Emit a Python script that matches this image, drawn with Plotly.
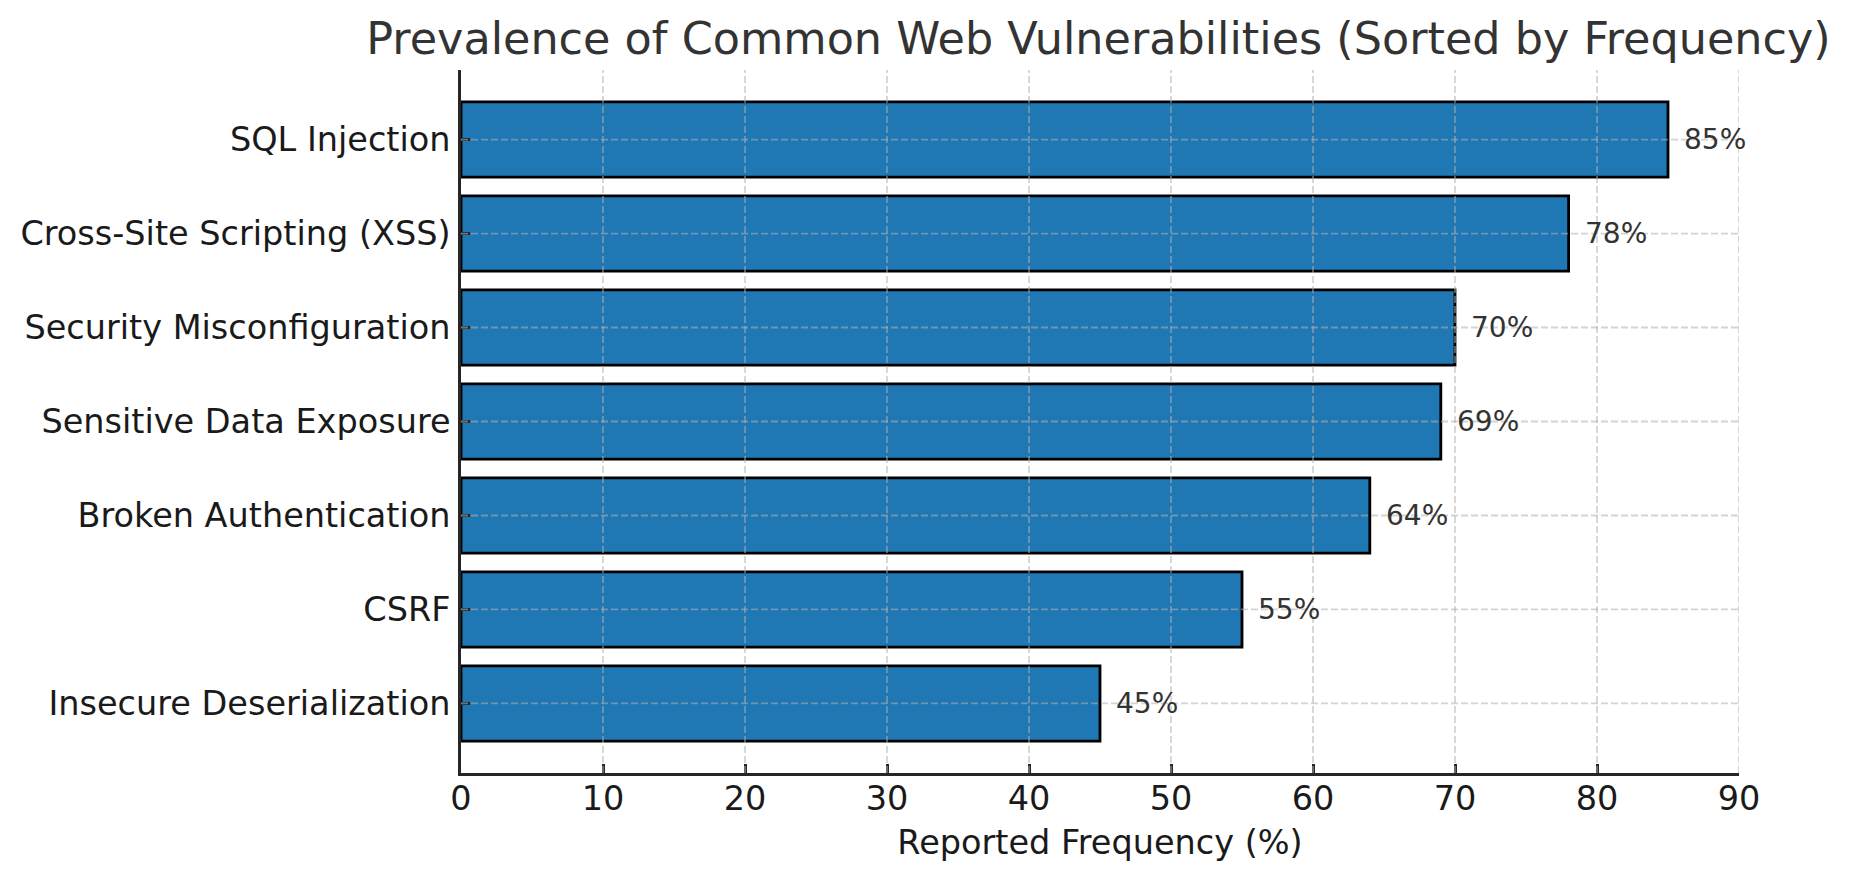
import plotly.graph_objects as go

categories = [
    "SQL Injection",
    "Cross-Site Scripting (XSS)",
    "Security Misconfiguration",
    "Sensitive Data Exposure",
    "Broken Authentication",
    "CSRF",
    "Insecure Deserialization",
]
values = [85, 78, 70, 69, 64, 55, 45]
x_ticks = [0, 10, 20, 30, 40, 50, 60, 70, 80, 90]

FONT = "DejaVu Sans"
GRID = "rgba(176,176,176,0.55)"
AXIS = "#262626"

W, H = 1842, 872  # page body has an 8px margin

fig = go.Figure()
fig.add_trace(go.Bar(
    x=values,
    y=categories,
    orientation="h",
    width=0.8,
    marker=dict(color="#1f77b4", line=dict(color="black", width=2.8)),
    hoverinfo="x+y",
))

# value labels
for c, v in zip(categories, values):
    fig.add_annotation(
        x=v + 1, y=c, xref="x", yref="y", text=f"{v}%",
        showarrow=False, xanchor="left", yanchor="middle",
        font=dict(family=FONT, size=28, color="#333333"),
    )

# grid drawn above bars (as in the reference)
shapes = []
for t in x_ticks[1:]:
    shapes.append(dict(type="line", xref="x", yref="paper", x0=t, x1=t, y0=0, y1=1,
                       layer="above", line=dict(color=GRID, width=1.8, dash="7px,3px")))
for c in categories:
    shapes.append(dict(type="line", xref="paper", yref="y", x0=0, x1=1, y0=c, y1=c,
                       layer="above", line=dict(color=GRID, width=1.8, dash="7px,3px")))

n = len(categories)
fig.update_layout(
    width=W, height=H,
    margin=dict(l=450, r=111, t=62, b=107),
    paper_bgcolor="white", plot_bgcolor="white",
    showlegend=False,
    shapes=shapes,
    title=dict(
        text="Prevalence of Common Web Vulnerabilities (Sorted by Frequency)",
        x=(450 + (W - 111)) / 2 / W, xanchor="center",
        y=1 - 30 / H, yanchor="middle",
        font=dict(family=FONT, size=44.5, color="#333333"),
    ),
    xaxis=dict(
        range=[0, 90], tickvals=x_ticks, ticktext=[str(t) for t in x_ticks],
        showgrid=False, zeroline=False,
        showline=True, linecolor=AXIS, linewidth=2.5,
        ticks="inside", ticklen=9, tickwidth=2.5, tickcolor=AXIS,
        tickfont=dict(family=FONT, size=33.5, color="#1a1a1a"),
        ticklabelstandoff=-6,
        title=dict(text="Reported Frequency (%)", standoff=14,
                   font=dict(family=FONT, size=33.5, color="#1a1a1a")),
        layer="above traces",
    ),
    yaxis=dict(
        categoryorder="array", categoryarray=categories,
        range=[n - 1 + 0.74, -0.74],
        showgrid=False, zeroline=False,
        showline=True, linecolor=AXIS, linewidth=2.5,
        ticks="inside", ticklen=9, tickwidth=2.5, tickcolor=AXIS,
        tickfont=dict(family=FONT, size=33.5, color="#1a1a1a"),
        ticklabelstandoff=1,
        layer="above traces",
    ),
)

fig.write_html("out.html")
